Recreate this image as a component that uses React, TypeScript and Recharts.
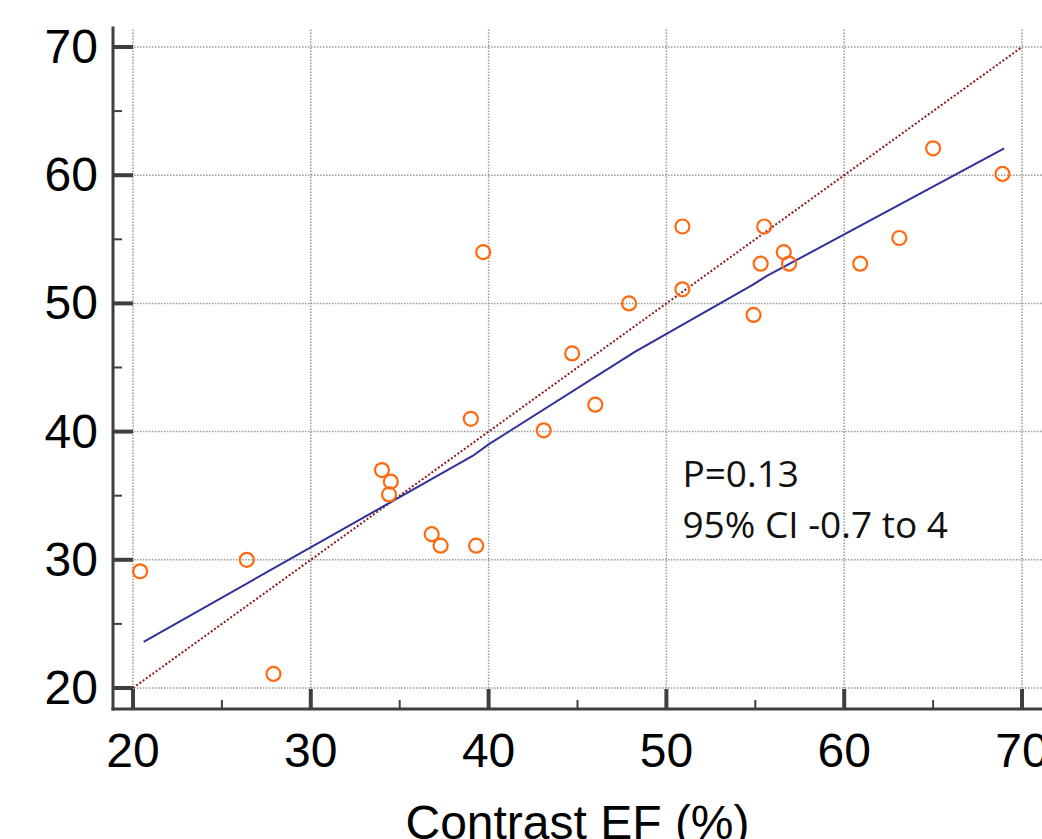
import React from 'react'
import {
  ScatterChart,
  Scatter,
  XAxis,
  YAxis,
  ReferenceLine,
  ReferenceDot,
} from 'recharts'

// measured points (contrast EF vs. other EF)
const contrastEF = [20.4, 26.4, 27.9, 34.0, 34.5, 34.4, 36.8, 37.3, 39.3, 39.0, 39.7, 43.1, 44.7, 46.0, 47.9, 50.9, 50.9, 54.9, 55.3, 55.5, 56.6, 56.9, 60.9, 63.1, 65.0, 68.9]
const otherEF = [29.1, 30.0, 21.1, 37.0, 36.1, 35.1, 32.0, 31.1, 31.1, 41.0, 54.0, 40.1, 46.1, 42.1, 50.0, 56.0, 51.1, 49.1, 53.1, 56.0, 54.0, 53.1, 53.1, 55.1, 62.1, 60.1]

// fitted (blue) line
const fitX = [20.6, 34.5, 39.1, 40.0, 48.2, 54.8, 55.6, 69.0]
const fitY = [23.6, 34.5, 38.1, 39.0, 46.2, 51.4, 52.1, 62.1]

// identity line
const identity = [20, 70]

const axisTicks = [20, 25, 30, 35, 40, 45, 50, 55, 60, 65, 70]
const gridValues = [20, 30, 40, 50, 60, 70]

const annotationLines = ['P=0.13', '95% CI -0.7 to 4']
const annotationAt = { x: 50.9, y: 35.7 }

const points = contrastEF.map((x, i) => ({ x, y: otherEF[i] }))
const fitLine = fitX.map((x, i) => ({ x, y: fitY[i] }))

const AXIS = '#3f3f3f'
const FONT = '"Liberation Sans", Arial, sans-serif'

const XTick = (props: any) => {
  const { x, y, payload } = props
  const major = payload.value % 10 === 0
  return (
    <g>
      <line x1={x} x2={x} y1={y} y2={y - (major ? 20 : 9)} stroke={AXIS} strokeWidth={major ? 4 : 2} />
      {major && (
        <text x={x} y={y + 58} textAnchor="middle" fontFamily={FONT} fontSize={48} fill="#000">
          {payload.value}
        </text>
      )}
    </g>
  )
}

const YTick = (props: any) => {
  const { x, y, payload } = props
  const major = payload.value % 10 === 0
  return (
    <g>
      <line x1={x} x2={x + (major ? 20 : 9)} y1={y} y2={y} stroke={AXIS} strokeWidth={major ? 4 : 2} />
      {major && (
        <text x={x - 15} y={y + 16} textAnchor="end" fontFamily={FONT} fontSize={48} fill="#000">
          {payload.value}
        </text>
      )}
    </g>
  )
}

const Ring = (props: any) => (
  <circle cx={props.cx} cy={props.cy} r={7} fill="none" stroke="#ff6a10" strokeWidth={2.2} />
)

const Annotation = (props: any) => (
  <text x={props.cx} y={props.cy} fontFamily='"Open Sans", sans-serif' fontSize={37} fill="#111">
    {annotationLines.map((t, i) => (
      <tspan key={t} x={props.cx} dy={i === 0 ? 0 : 51}>
        {t}
      </tspan>
    ))}
  </text>
)

export default function App() {
  return (
    <div style={{ position: 'absolute', left: 0, top: 0, width: 1042, height: 839, overflow: 'hidden', background: '#fff' }}>
      <ScatterChart width={1080} height={860} margin={{ top: 28, right: 38, bottom: 0, left: 0 }}>
        <XAxis
          type="number"
          dataKey="x"
          domain={[20, 70]}
          ticks={axisTicks}
          interval={0}
          padding={{ left: 20, right: 20 }}
          height={151}
          tickSize={0}
          tickMargin={0}
          tickLine={false}
          tick={<XTick />}
          axisLine={{ stroke: AXIS, strokeWidth: 3, strokeLinecap: 'square' }}
          label={{
            value: 'Contrast EF (%)',
            position: 'insideBottom',
            offset: 21,
            fill: '#000',
            fontSize: 48,
            fontFamily: FONT,
          }}
        />
        <YAxis
          type="number"
          dataKey="y"
          domain={[20, 70]}
          ticks={axisTicks}
          interval={0}
          padding={{ top: 19, bottom: 21 }}
          width={113}
          tickSize={0}
          tickMargin={0}
          tickLine={false}
          tick={<YTick />}
          axisLine={{ stroke: AXIS, strokeWidth: 3, strokeLinecap: 'square' }}
        />
        {gridValues.map((v) => (
          <ReferenceLine key={'gx' + v} x={v} stroke="#999" strokeWidth={1.5} strokeDasharray="1.5 1.5" />
        ))}
        {gridValues.map((v) => (
          <ReferenceLine key={'gy' + v} y={v} stroke="#999" strokeWidth={1.5} strokeDasharray="1.5 1.5" />
        ))}
        <ReferenceLine
          segment={[
            { x: identity[0], y: identity[0] },
            { x: identity[1], y: identity[1] },
          ]}
          stroke="#8b1a1a"
          strokeWidth={2}
          strokeDasharray="2 2"
        />
        <Scatter
          data={fitLine}
          line={{ stroke: '#30309a', strokeWidth: 2 }}
          shape={() => <g />}
          isAnimationActive={false}
        />
        <Scatter data={points} shape={<Ring />} isAnimationActive={false} />
        <ReferenceDot x={annotationAt.x} y={annotationAt.y} r={1} shape={<Annotation />} />
      </ScatterChart>
    </div>
  )
}
